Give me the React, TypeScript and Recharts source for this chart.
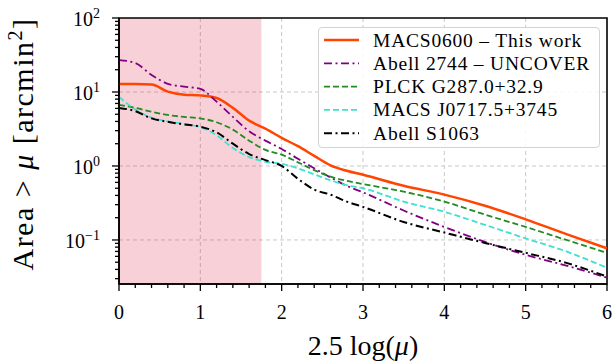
import React from 'react';
import { LineChart, Line, XAxis, YAxis, CartesianGrid, ReferenceArea, Legend, Label } from 'recharts';

const xValues = [0, 0.2, 0.4, 0.6, 0.8, 1.0, 1.2, 1.4, 1.6, 1.8, 2.0, 2.2, 2.4, 2.6, 2.8, 3.0, 3.5, 4.0, 4.5, 5.0, 5.5, 6.0];
const macs0600 = [12.8, 12.8, 12.6, 10.1, 9.2, 9.0, 8.3, 6.1, 4.1, 3.2, 2.4, 1.85, 1.37, 1.02, 0.86, 0.76, 0.54, 0.41, 0.29, 0.19, 0.12, 0.077];
const abell2744 = [27, 24.6, 17, 12.9, 11.8, 11.0, 7.4, 4.6, 2.95, 2.2, 1.7, 1.25, 0.93, 0.7, 0.54, 0.44, 0.25, 0.15, 0.094, 0.063, 0.045, 0.031];
const plckG287 = [6.7, 6.1, 5.4, 4.9, 4.6, 4.4, 3.9, 3.1, 2.2, 1.65, 1.42, 1.12, 0.88, 0.72, 0.63, 0.57, 0.45, 0.33, 0.22, 0.15, 0.1, 0.067];
const macsJ0717 = [8.6, 5.8, 4.5, 4.0, 3.7, 3.35, 2.6, 1.75, 1.32, 1.14, 1.07, 0.93, 0.77, 0.64, 0.55, 0.5, 0.33, 0.24, 0.16, 0.105, 0.07, 0.042];
const abellS1063 = [6.1, 5.5, 4.4, 3.95, 3.65, 3.4, 2.85, 2.0, 1.45, 1.2, 1.0, 0.67, 0.48, 0.41, 0.33, 0.28, 0.175, 0.126, 0.091, 0.067, 0.049, 0.032];

const seriesNames = ['MACS0600 – This work', 'Abell 2744 – UNCOVER', 'PLCK G287.0+32.9', 'MACS J0717.5+3745', 'Abell S1063'];
const xTicks = [0, 0.2, 0.4, 0.6, 0.8, 1, 1.2, 1.4, 1.6, 1.8, 2, 2.2, 2.4, 2.6, 2.8, 3, 3.2, 3.4, 3.6, 3.8, 4, 4.2, 4.4, 4.6, 4.8, 5, 5.2, 5.4, 5.6, 5.8, 6];
const xGrid = [1, 2, 3, 4, 5];
const yTicks = [0.03, 0.04, 0.05, 0.06, 0.07, 0.08, 0.09, 0.1, 0.2, 0.3, 0.4, 0.5, 0.6, 0.7, 0.8, 0.9, 1, 2, 3, 4, 5, 6, 7, 8, 9, 10, 20, 30, 40, 50, 60, 70, 80, 90, 100];
const yGrid = [0.1, 1, 10];
const yDomain = [0.0254, 100];
const xDomain = [0, 6];
const shadedRange = [0, 1.75];

const data = xValues.map((x, i) => ({
  x,
  macs0600: macs0600[i],
  abell2744: abell2744[i],
  plck: plckG287[i],
  macsj0717: macsJ0717[i],
  abells1063: abellS1063[i],
}));

const series = [
  { key: 'macs0600', name: seriesNames[0], color: '#ff4500', width: 2.5, dash: undefined },
  { key: 'abell2744', name: seriesNames[1], color: '#800080', width: 1.8, dash: '8 3.5 2 3.5' },
  { key: 'plck', name: seriesNames[2], color: '#228b22', width: 1.8, dash: '6 3' },
  { key: 'macsj0717', name: seriesNames[3], color: '#40e0d0', width: 1.8, dash: '6 3' },
  { key: 'abells1063', name: seriesNames[4], color: '#000000', width: 2, dash: '8 3.5 2 3.5' },
];

const FONT = '"Liberation Serif", "Times New Roman", "DejaVu Serif", serif';

function XTick(props: any) {
  const { x, y, payload } = props;
  const v = payload.value;
  const major = Math.abs(v - Math.round(v)) < 1e-6;
  return (
    <g>
      <line x1={x} x2={x} y1={y} y2={y + (major ? 7 : 4)} stroke="#000" strokeWidth={1.3} />
      {major && (
        <text x={x} y={y + 35} textAnchor="middle" fontSize={20} fontFamily={FONT} fill="#000">
          {Math.round(v)}
        </text>
      )}
    </g>
  );
}

function YTick(props: any) {
  const { x, y, payload } = props;
  const v = payload.value;
  const e = Math.log10(v);
  const major = Math.abs(e - Math.round(e)) < 1e-6;
  const exp = Math.round(e);
  return (
    <g>
      <line x1={x} x2={x - (major ? 7 : 4)} y1={y} y2={y} stroke="#000" strokeWidth={1.3} />
      {major && (
        <text x={x - 19} y={y + 8} textAnchor="end" fontSize={20} fontFamily={FONT} fill="#000">
          10
          <tspan dy={-8} fontSize={14}>{exp < 0 ? '−' + Math.abs(exp) : String(exp)}</tspan>
        </text>
      )}
    </g>
  );
}

function XLabel(props: any) {
  const vb = props.viewBox || { x: 119, y: 284, width: 488, height: 77 };
  return (
    <text x={vb.x + vb.width / 2} y={vb.y + 71} textAnchor="middle" fontSize={28} fontFamily={FONT} fill="#000">
      2.5 log(<tspan fontStyle="italic">μ</tspan>)
    </text>
  );
}

function YLabel(props: any) {
  const vb = props.viewBox || { x: 0, y: 18, width: 119, height: 266 };
  const cx = vb.x + 33;
  const cy = vb.y + 126;
  return (
    <text
      x={cx}
      y={cy}
      transform={`rotate(-90, ${cx}, ${cy})`}
      textAnchor="middle"
      fontSize={30}
      fontFamily={FONT}
      letterSpacing={1.5}
      fill="#000"
    >
      Area &gt; <tspan fontStyle="italic">μ</tspan> [arcmin<tspan dy={-11} fontSize={20}>2</tspan>
      <tspan dy={11}>]</tspan>
    </text>
  );
}

const ROW_H = 23.3;

function LegendBox() {
  return (
    <div
      style={{
        width: 282,
        height: 121,
        boxSizing: 'border-box',
        border: '1px solid #d3d3d3',
        borderRadius: 4,
        background: 'rgba(255,255,255,0.85)',
        position: 'relative',
      }}
    >
      <svg width={280} height={119} style={{ position: 'absolute', left: 0, top: 0 }}>
        {series.map((s, i) => {
          const cy = 12 + i * ROW_H;
          return (
            <g key={s.key}>
              <line x1={5} x2={40} y1={cy} y2={cy} stroke={s.color} strokeWidth={s.width} strokeDasharray={s.dash} />
              <text x={54} y={cy + 6.5} fontSize={19.5} fontFamily={FONT} letterSpacing={0.8} fill="#000">
                {s.name}
              </text>
            </g>
          );
        })}
      </svg>
    </div>
  );
}

export default function App() {
  return (
    <div style={{ position: 'absolute', left: 0, top: 0, width: 614, height: 361, background: '#fff' }}>
      <LineChart width={614} height={361} data={data} margin={{ top: 18, right: 7, bottom: 0, left: 0 }}>
        <ReferenceArea x1={shadedRange[0]} x2={shadedRange[1]} fill="#dc143c" fillOpacity={0.2} stroke="none" ifOverflow="hidden" />
        <CartesianGrid stroke="#c8c8c8" strokeDasharray="4 3" horizontalValues={yGrid} verticalValues={xGrid} />
        <XAxis
          dataKey="x"
          type="number"
          domain={xDomain}
          ticks={xTicks}
          interval={0}
          height={77}
          tickSize={0}
          tickMargin={0}
          tickLine={false}
          axisLine={{ stroke: '#000', strokeWidth: 1.6 }}
          tick={<XTick />}
          allowDataOverflow
        >
          <Label content={<XLabel />} />
        </XAxis>
        <YAxis
          type="number"
          scale="log"
          domain={yDomain}
          ticks={yTicks}
          interval={0}
          width={119}
          tickSize={0}
          tickMargin={0}
          tickLine={false}
          axisLine={{ stroke: '#000', strokeWidth: 1.6 }}
          tick={<YTick />}
          allowDataOverflow
        >
          <Label content={<YLabel />} />
        </YAxis>
        <ReferenceArea
          x1={xDomain[0]}
          x2={xDomain[1]}
          y1={yDomain[0]}
          y2={yDomain[1]}
          fill="none"
          stroke="#000"
          strokeWidth={1.6}
          ifOverflow="visible"
        />
        {series.map((s) => (
          <Line
            key={s.key}
            dataKey={s.key}
            name={s.name}
            type="monotone"
            stroke={s.color}
            strokeWidth={s.width}
            strokeDasharray={s.dash}
            dot={false}
            activeDot={false}
            isAnimationActive={false}
          />
        ))}
        <Legend
          layout="horizontal"
          verticalAlign="middle"
          align="center"
          content={<LegendBox />}
          wrapperStyle={{ left: 318, top: 27, width: 282, height: 121 }}
        />
      </LineChart>
    </div>
  );
}
